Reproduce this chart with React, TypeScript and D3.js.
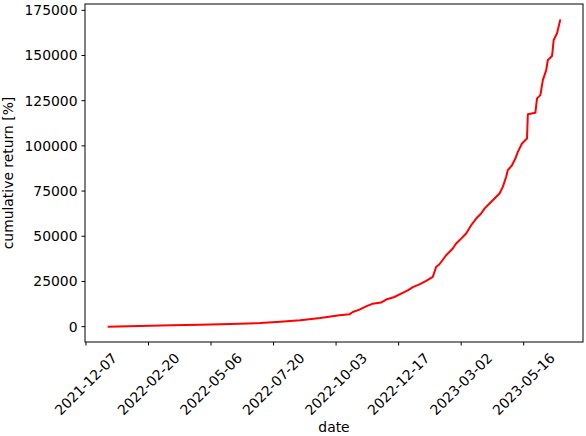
import React from "react";
import * as d3 from "d3";

const dates: string[] = [
  "2022-01-02", "2022-02-22", "2022-03-20", "2022-04-23", "2022-05-29", "2022-07-04",
  "2022-07-28", "2022-08-21", "2022-09-14", "2022-10-07", "2022-10-19", "2022-10-23",
  "2022-10-31", "2022-11-08", "2022-11-16", "2022-11-26", "2022-12-02", "2022-12-12",
  "2022-12-20", "2022-12-28", "2023-01-03", "2023-01-11", "2023-01-19", "2023-01-27",
  "2023-01-31", "2023-02-04", "2023-02-12", "2023-02-20", "2023-02-24", "2023-03-02",
  "2023-03-08", "2023-03-14", "2023-03-20", "2023-03-26", "2023-03-30", "2023-04-05",
  "2023-04-11", "2023-04-17", "2023-04-21", "2023-04-25", "2023-04-27", "2023-05-02",
  "2023-05-06", "2023-05-09", "2023-05-14", "2023-05-20", "2023-05-21", "2023-05-30",
  "2023-06-01", "2023-06-05", "2023-06-08", "2023-06-12", "2023-06-14", "2023-06-19",
  "2023-06-21", "2023-06-25", "2023-06-29",
];

const cumulativeReturn: number[] = [
  0, 550, 800, 1100, 1450, 2000,
  2650, 3500, 4800, 6300, 6800, 8100,
  9400, 11200, 12700, 13300, 15000, 16400,
  18300, 20100, 21900, 23400, 25300, 27500,
  33000, 34500, 39500, 43200, 46000, 48700,
  51500, 56100, 59800, 62600, 65300, 68100,
  70900, 73700, 77300, 82900, 86600, 89300,
  93000, 96700, 101300, 104100, 117500, 118300,
  126300, 128100, 136400, 141900, 147500, 149700,
  158600, 162300, 170000,
];

const xTickLabels: string[] = [
  "2021-12-07", "2022-02-20", "2022-05-06", "2022-07-20",
  "2022-10-03", "2022-12-17", "2023-03-02", "2023-05-16",
];

const yTickValues: number[] = [0, 25000, 50000, 75000, 100000, 125000, 150000, 175000];

const W = 586;
const H = 436;
const left = 85;
const right = 583;
const top = 4;
const bottom = 342;
const FONT = "'DejaVu Sans', sans-serif";
const FS = 13.9;

export default function App() {
  const data = dates.map((d, i) => ({ date: new Date(d + "T00:00:00Z"), value: cumulativeReturn[i] }));
  const [x0, x1] = d3.extent(data, (d) => d.date.getTime()) as [number, number];
  const xr = x1 - x0;
  const x = d3.scaleUtc().domain([new Date(x0 - 0.05 * xr), new Date(x1 + 0.05 * xr)]).range([left, right]);
  const [y0, y1] = d3.extent(data, (d) => d.value) as [number, number];
  const yr = y1 - y0;
  const y = d3.scaleLinear().domain([y0 - 0.05 * yr, y1 + 0.05 * yr]).range([bottom, top]);

  const line = d3
    .line<{ date: Date; value: number }>()
    .x((d) => x(d.date))
    .y((d) => y(d.value));

  return (
    <svg width={W} height={H} style={{ position: "absolute", left: 0, top: 0, background: "#fff" }}>
      <rect x={0} y={0} width={W} height={H} fill="#fff" />
      <path d={line(data) || ""} fill="none" stroke="#ff0000" strokeWidth={2} strokeLinejoin="round" />
      <rect x={left} y={top} width={right - left} height={bottom - top} fill="none" stroke="#000" strokeWidth={1} />
      {yTickValues.map((v) => (
        <g key={v}>
          <line x1={left - 3.5} x2={left} y1={y(v)} y2={y(v)} stroke="#000" strokeWidth={1} />
          <text x={left - 7.5} y={y(v)} dy="0.35em" textAnchor="end" fontFamily={FONT} fontSize={FS} fill="#000">
            {String(v)}
          </text>
        </g>
      ))}
      {xTickLabels.map((t) => {
        const px = x(new Date(t + "T00:00:00Z"));
        return (
          <g key={t}>
            <line x1={px} x2={px} y1={bottom} y2={bottom + 3.5} stroke="#000" strokeWidth={1} />
            <text
              transform={`translate(${px},384) rotate(-45)`}
              dy="0.35em"
              textAnchor="middle"
              fontFamily={FONT}
              fontSize={FS}
              fill="#000"
            >
              {t}
            </text>
          </g>
        );
      })}
      <text x={(left + right) / 2} y={432} textAnchor="middle" fontFamily={FONT} fontSize={FS} fill="#000">
        date
      </text>
      <text
        transform={`translate(13,${(top + bottom) / 2}) rotate(-90)`}
        textAnchor="middle"
        fontFamily={FONT}
        fontSize={FS}
        fill="#000"
      >
        cumulative return [%]
      </text>
    </svg>
  );
}
